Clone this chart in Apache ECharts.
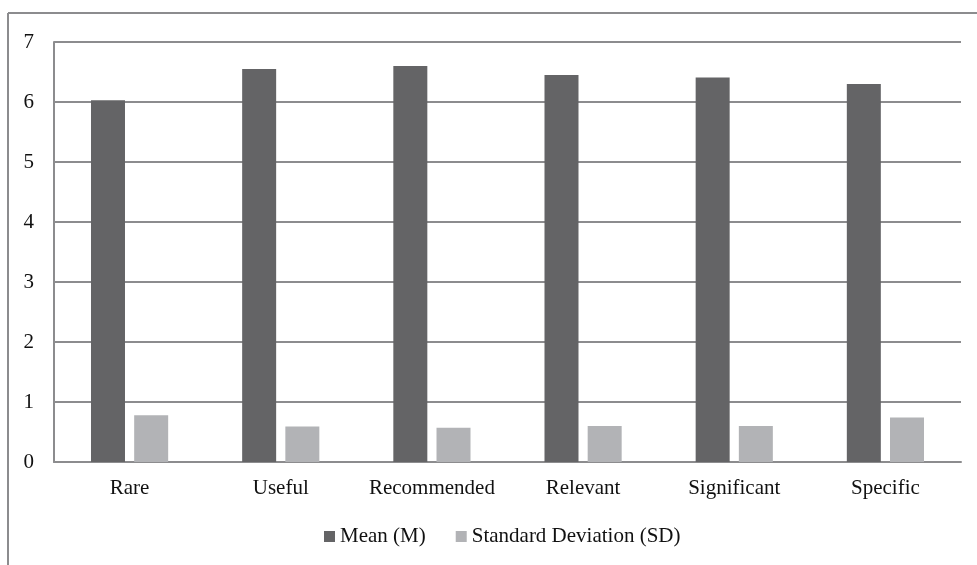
<!DOCTYPE html>
<html>
<head>
<meta charset="utf-8">
<script src="https://cdn.jsdelivr.net/npm/echarts@6/dist/echarts.min.js"></script>
<style>
  html, body { margin: 0; padding: 0; background: #fff; }
  #chart { width: 977px; height: 565px; }
</style>
</head>
<body>
<div id="chart"></div>
<script>
// Rating categories and their mean / standard deviation scores
const categories = ['Rare', 'Useful', 'Recommended', 'Relevant', 'Significant', 'Specific'];
const meanValues = [6.03, 6.55, 6.60, 6.45, 6.41, 6.30];
const sdValues = [0.78, 0.59, 0.57, 0.60, 0.60, 0.74];
const seriesNames = ['Mean (M)', 'Standard Deviation (SD)'];

const font = 'Liberation Serif, Times New Roman, serif';
const lineColor = '#8c8c8e';

const chart = echarts.init(document.getElementById('chart'), null, { renderer: 'canvas' });

chart.setOption({
  animation: false,
  backgroundColor: '#ffffff',
  graphic: [
    { type: 'line', shape: { x1: 8, y1: 13, x2: 977, y2: 13 }, style: { stroke: lineColor, lineWidth: 2 } },
    { type: 'line', shape: { x1: 8, y1: 13, x2: 8, y2: 565 }, style: { stroke: lineColor, lineWidth: 2 } }
  ],
  grid: { left: 54, right: 16, top: 42, bottom: 103, containLabel: false },
  legend: {
    data: seriesNames,
    top: 526,
    left: 324,
    padding: 0,
    icon: 'rect',
    itemWidth: 11,
    itemHeight: 11,
    itemGap: 30,
    textStyle: { fontFamily: font, fontSize: 21, color: '#111' }
  },
  xAxis: {
    type: 'category',
    data: categories,
    axisLine: { show: true, lineStyle: { color: lineColor, width: 2 } },
    axisTick: { show: false },
    axisLabel: { fontFamily: font, fontSize: 21, color: '#111', margin: 16, interval: 0 }
  },
  yAxis: {
    type: 'value',
    min: 0,
    max: 7,
    interval: 1,
    axisLine: { show: true, lineStyle: { color: lineColor, width: 2 } },
    axisTick: { show: false },
    axisLabel: { fontFamily: font, fontSize: 21, color: '#111', margin: 20 },
    splitLine: { show: true, lineStyle: { color: lineColor, width: 2 } }
  },
  series: [
    {
      name: seriesNames[0],
      type: 'bar',
      data: meanValues,
      barWidth: 34,
      barGap: '27%',
      itemStyle: { color: '#646466' }
    },
    {
      name: seriesNames[1],
      type: 'bar',
      data: sdValues,
      barWidth: 34,
      itemStyle: { color: '#b2b3b6' }
    }
  ]
});
</script>
</body>
</html>
